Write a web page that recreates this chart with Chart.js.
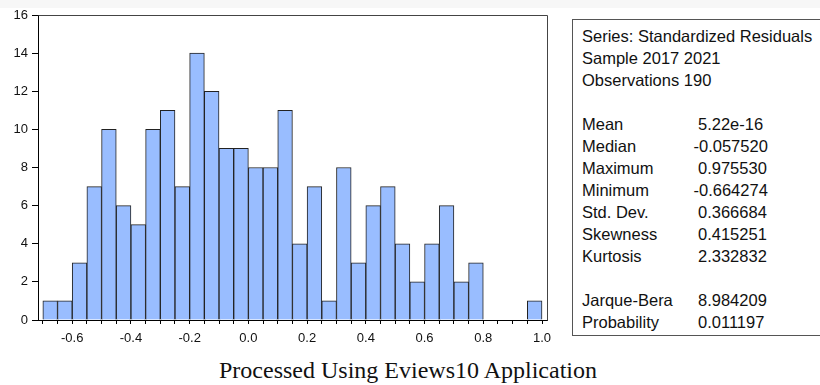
<!DOCTYPE html>
<html>
<head>
<meta charset="utf-8">
<script src="https://cdn.jsdelivr.net/npm/chart.js@4.4.0/dist/chart.umd.min.js"></script>
<style>
    body { margin: 0; width: 820px; height: 385px; background: #fff; position: relative; overflow: hidden;
           font-family: 'Liberation Sans', Arial, sans-serif; }
    #band { position: absolute; left: 0; top: 0; width: 820px; height: 8px; background: #f7f7f7; }
    #wrap { position: absolute; left: 0; top: 0; width: 560px; height: 352px; }
    #stats { position: absolute; left: 572px; top: 19px; width: 270px; height: 317px; box-sizing: border-box;
             border: 1px solid #555; }
    .row { position: absolute; left: 9px; height: 22px; line-height: 22px; font-size: 16.5px; color: #111; white-space: nowrap; }
    .val { position: absolute; height: 22px; line-height: 22px; font-size: 16.5px; color: #111; white-space: nowrap; }
    #caption { position: absolute; left: 0; top: 359px; width: 816px; text-align: center;
               font-family: 'Liberation Serif', 'Times New Roman', serif; font-size: 24px; line-height: 23px; color: #111; }
</style>
</head>
<body>
<div id="band"></div>
<div id="wrap"><canvas id="hist"></canvas></div>
<div id="stats"></div>
<div id="caption">Processed Using Eviews10 Application</div>
<script>
// histogram bins (left edge, width 0.05) and counts
const binStarts = [-0.70, -0.65, -0.60, -0.55, -0.50, -0.45, -0.40, -0.35, -0.30, -0.25,
                   -0.20, -0.15, -0.10, -0.05, 0.00, 0.05, 0.10, 0.15, 0.20, 0.25,
                   0.30, 0.35, 0.40, 0.45, 0.50, 0.55, 0.60, 0.65, 0.70, 0.75,
                   0.80, 0.85, 0.90, 0.95];
const counts = [1, 1, 3, 7, 10, 6, 5, 10, 11, 7,
                14, 12, 9, 9, 8, 8, 11, 4, 7, 1,
                8, 3, 6, 7, 4, 2, 4, 6, 2, 3,
                0, 0, 0, 1];
const binWidth = 0.05;
const yTicks = [0, 2, 4, 6, 8, 10, 12, 14, 16];
const xTickLabels = ['-0.6', '-0.4', '-0.2', '0.0', '0.2', '0.4', '0.6', '0.8', '1.0'];

const headerLines = ['Series: Standardized Residuals', 'Sample 2017 2021', 'Observations 190'];
const statNames = ['Mean', 'Median', 'Maximum', 'Minimum', 'Std. Dev.', 'Skewness', 'Kurtosis'];
const statValues = ['5.22e-16', '-0.057520', '0.975530', '-0.664274', '0.366684', '0.415251', '2.332832'];
const testNames = ['Jarque-Bera', 'Probability'];
const testValues = ['8.984209', '0.011197'];

// stats box
const box = document.getElementById('stats');
function addRow(k, label, value) {
    const top = 5 + 22 * k;
    const l = document.createElement('div');
    l.className = 'row';
    l.style.top = top + 'px';
    l.textContent = label;
    box.appendChild(l);
    if (value !== undefined) {
        const v = document.createElement('div');
        v.className = 'val';
        v.style.top = top + 'px';
        // minus sign hangs to the left of the number column
        v.style.left = (value.startsWith('-') ? 120.5 : 125) + 'px';
        v.textContent = value;
        box.appendChild(v);
    }
}
headerLines.forEach((t, i) => addRow(i, t));
statNames.forEach((t, i) => addRow(4 + i, t, statValues[i]));
testNames.forEach((t, i) => addRow(12 + i, t, testValues[i]));

// frame on top and right of the plot
const framePlugin = {
    id: 'frame',
    afterDraw(chart) {
        const { ctx, chartArea: a } = chart;
        ctx.save();
        ctx.strokeStyle = '#444';
        ctx.lineWidth = 1;
        ctx.beginPath();
        ctx.moveTo(Math.round(a.left) + 0.5, Math.round(a.top) + 0.5);
        ctx.lineTo(Math.round(a.right) + 0.5, Math.round(a.top) + 0.5);
        ctx.lineTo(Math.round(a.right) + 0.5, Math.round(a.bottom) + 0.5);
        ctx.stroke();
        ctx.restore();
    }
};

const edges = binStarts.concat([binStarts[binStarts.length - 1] + binWidth]);

new Chart(document.getElementById('hist'), {
    type: 'bar',
    data: {
        datasets: [{
            data: binStarts.map((b, i) => ({ x: b + binWidth / 2, y: counts[i] })),
            backgroundColor: '#99bdff',
            borderColor: '#222',
            borderWidth: 1,
            barPercentage: 1,
            categoryPercentage: 1,
        }]
    },
    options: {
        responsive: true,
        maintainAspectRatio: false,
        animation: false,
        layout: { padding: { top: 15, right: 13, left: 0, bottom: 0 } },
        plugins: { legend: { display: false }, tooltip: { enabled: false } },
        scales: {
            x: {
                type: 'linear',
                offset: false,
                min: -0.7165,
                max: 1.017,
                afterBuildTicks: (scale) => { scale.ticks = edges.map(v => ({ value: v })); },
                afterFit: (scale) => { scale.height = 32; },
                grid: { drawOnChartArea: false, drawTicks: true, tickLength: 4, color: '#000', offset: false },
                border: { display: true, color: '#000', width: 1 },
                ticks: {
                    autoSkip: false,
                    maxRotation: 0,
                    padding: 7,
                    color: '#111',
                    font: { family: 'Liberation Sans', size: 13 },
                    callback: (v) => xTickLabels.find(t => Math.abs(parseFloat(t) - v) < 1e-6) || ''
                }
            },
            y: {
                min: 0,
                max: 16,
                afterBuildTicks: (scale) => { scale.ticks = yTicks.map(v => ({ value: v })); },
                afterFit: (scale) => { scale.width = 38; },
                grid: { drawOnChartArea: false, drawTicks: true, tickLength: 6, color: '#000' },
                border: { display: true, color: '#000', width: 1 },
                ticks: {
                    padding: 4,
                    color: '#111',
                    font: { family: 'Liberation Sans', size: 13 }
                }
            }
        }
    },
    plugins: [framePlugin]
});
</script>
</body>
</html>
